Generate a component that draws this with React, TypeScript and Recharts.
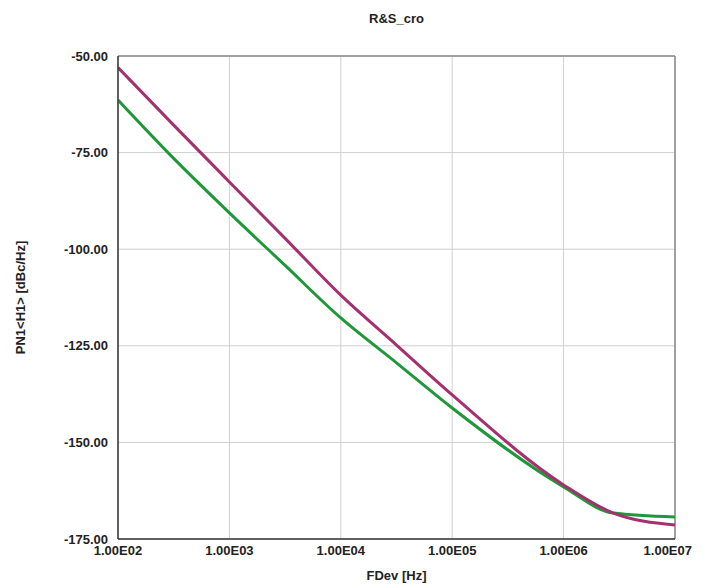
import React from 'react';
import {
  LineChart,
  Line,
  XAxis,
  YAxis,
  CartesianGrid,
  ReferenceLine,
} from 'recharts';

// Offset frequencies (Hz) and the two phase-noise traces (dBc/Hz)
const freqs = [100, 316, 1000, 3162, 10000, 31623, 100000, 1000000, 2800000, 10000000];
const pnMagenta = [-53.0, -67.9, -82.6, -97.2, -111.9, -124.8, -137.7, -161.0, -168.3, -171.4];
const pnGreen = [-61.4, -76.5, -90.6, -104.2, -117.8, -129.4, -141.1, -161.5, -168.3, -169.3];

const xTicks = [100, 1000, 10000, 100000, 1000000, 10000000];
const yTicks = [-175, -150, -125, -100, -75, -50];

const COLORS = {
  magenta: '#a3306f',
  green: '#1f983a',
  grid: '#cfcfcf',
  frame: '#8a8a8a',
  axis: '#333333',
  text: '#222222',
};

const FONT = '"Liberation Sans", Arial, sans-serif';

const data = freqs.map((f, i) => ({
  f,
  magenta: pnMagenta[i],
  green: pnGreen[i],
}));

const fmtExp = (v: number) => {
  const e = Math.round(Math.log10(v));
  return `1.00E${String(e).padStart(2, '0')}`;
};

const tickStyle = { fontSize: 13, fontWeight: 700, fill: COLORS.text, fontFamily: FONT };

// x tick label; the last one is right-aligned so it stays inside the svg
const FreqTick = (props: any) => {
  const { x, y, payload } = props;
  const last = payload.value >= xTicks[xTicks.length - 1];
  return (
    <text
      x={last ? x + 17 : x}
      y={y}
      dy="0.71em"
      textAnchor={last ? 'end' : 'middle'}
      fontSize={13}
      fontWeight={700}
      fill={COLORS.text}
      fontFamily={FONT}
    >
      {fmtExp(payload.value)}
    </text>
  );
};

export default function App() {
  return (
    <div style={{ position: 'relative', width: 686, height: 576, fontFamily: FONT }}>
      <div
        style={{
          position: 'absolute',
          left: 110,
          width: 557,
          top: 3,
          textAlign: 'center',
          fontSize: 13,
          fontWeight: 700,
          color: COLORS.text,
        }}
      >
        R&amp;S_cro
      </div>
      <LineChart
        width={686}
        height={576}
        data={data}
        margin={{ top: 48, right: 19, left: 0, bottom: 0 }}
      >
        <CartesianGrid stroke={COLORS.grid} strokeWidth={1} />
        <XAxis
          dataKey="f"
          type="number"
          scale="log"
          domain={[100, 10000000]}
          ticks={xTicks}
          height={45}
          tickLine={false}
          tickSize={5}
          tickMargin={2}
          interval={0}
          allowDataOverflow
          axisLine={{ stroke: COLORS.axis, strokeWidth: 1.5 }}
          tick={<FreqTick />}
          label={{
            value: 'FDev [Hz]',
            position: 'insideBottom',
            offset: 4,
            style: { fontSize: 13, fontWeight: 700, fill: COLORS.text, fontFamily: FONT },
          }}
        />
        <YAxis
          type="number"
          domain={[-175, -50]}
          ticks={yTicks}
          tickFormatter={(v: number) => v.toFixed(2)}
          width={110}
          tickLine={false}
          tickSize={4}
          tickMargin={6}
          interval={0}
          axisLine={{ stroke: COLORS.axis, strokeWidth: 1.5 }}
          tick={tickStyle}
          label={{
            value: 'PN1<H1> [dBc/Hz]',
            angle: -90,
            position: 'insideLeft',
            offset: 12,
            style: { fontSize: 13, fontWeight: 700, fill: COLORS.text, fontFamily: FONT, textAnchor: 'middle' },
          }}
        />
        <ReferenceLine y={-50} stroke={COLORS.frame} strokeWidth={1.5} />
        <ReferenceLine x={10000000} stroke={COLORS.frame} strokeWidth={1.5} />
        <Line
          type="monotone"
          dataKey="green"
          stroke={COLORS.green}
          strokeWidth={3}
          dot={false}
          isAnimationActive={false}
        />
        <Line
          type="monotone"
          dataKey="magenta"
          stroke={COLORS.magenta}
          strokeWidth={3}
          dot={false}
          isAnimationActive={false}
        />
      </LineChart>
    </div>
  );
}
